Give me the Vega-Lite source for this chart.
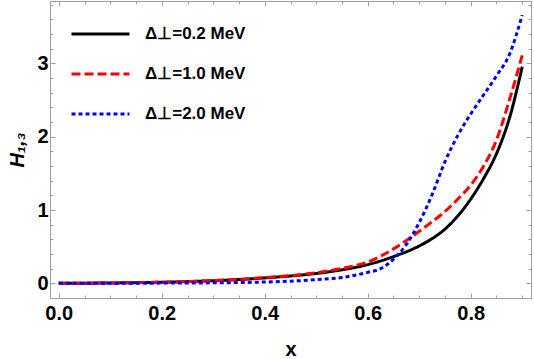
{
  "$schema": "https://vega.github.io/schema/vega-lite/v6.json",
  "width": 481,
  "height": 297,
  "autosize": {"type": "none"},
  "padding": {"left": 50, "top": 1, "right": 3, "bottom": 61},
  "config": {
    "font": "Liberation Sans",
    "view": {"stroke": "#a0a0a0", "strokeWidth": 1}
  },
  "data": {
    "values": [
      {"x": 0.0, "H": 0.0, "s": "Δ⊥=0.2 MeV"},
      {"x": 0.05, "H": 0.002, "s": "Δ⊥=0.2 MeV"},
      {"x": 0.1, "H": 0.005, "s": "Δ⊥=0.2 MeV"},
      {"x": 0.15, "H": 0.009, "s": "Δ⊥=0.2 MeV"},
      {"x": 0.2, "H": 0.015, "s": "Δ⊥=0.2 MeV"},
      {"x": 0.25, "H": 0.024, "s": "Δ⊥=0.2 MeV"},
      {"x": 0.3, "H": 0.036, "s": "Δ⊥=0.2 MeV"},
      {"x": 0.35, "H": 0.052, "s": "Δ⊥=0.2 MeV"},
      {"x": 0.4, "H": 0.074, "s": "Δ⊥=0.2 MeV"},
      {"x": 0.45, "H": 0.1, "s": "Δ⊥=0.2 MeV"},
      {"x": 0.5, "H": 0.135, "s": "Δ⊥=0.2 MeV"},
      {"x": 0.55, "H": 0.185, "s": "Δ⊥=0.2 MeV"},
      {"x": 0.6, "H": 0.255, "s": "Δ⊥=0.2 MeV"},
      {"x": 0.65, "H": 0.365, "s": "Δ⊥=0.2 MeV"},
      {"x": 0.7, "H": 0.51, "s": "Δ⊥=0.2 MeV"},
      {"x": 0.725, "H": 0.61, "s": "Δ⊥=0.2 MeV"},
      {"x": 0.75, "H": 0.74, "s": "Δ⊥=0.2 MeV"},
      {"x": 0.775, "H": 0.92, "s": "Δ⊥=0.2 MeV"},
      {"x": 0.8, "H": 1.15, "s": "Δ⊥=0.2 MeV"},
      {"x": 0.825, "H": 1.43, "s": "Δ⊥=0.2 MeV"},
      {"x": 0.85, "H": 1.77, "s": "Δ⊥=0.2 MeV"},
      {"x": 0.875, "H": 2.25, "s": "Δ⊥=0.2 MeV"},
      {"x": 0.9, "H": 2.955, "s": "Δ⊥=0.2 MeV"},

      {"x": 0.0, "H": 0.0, "s": "Δ⊥=1.0 MeV"},
      {"x": 0.05, "H": 0.002, "s": "Δ⊥=1.0 MeV"},
      {"x": 0.1, "H": 0.005, "s": "Δ⊥=1.0 MeV"},
      {"x": 0.15, "H": 0.009, "s": "Δ⊥=1.0 MeV"},
      {"x": 0.2, "H": 0.016, "s": "Δ⊥=1.0 MeV"},
      {"x": 0.25, "H": 0.025, "s": "Δ⊥=1.0 MeV"},
      {"x": 0.3, "H": 0.038, "s": "Δ⊥=1.0 MeV"},
      {"x": 0.35, "H": 0.055, "s": "Δ⊥=1.0 MeV"},
      {"x": 0.4, "H": 0.078, "s": "Δ⊥=1.0 MeV"},
      {"x": 0.45, "H": 0.105, "s": "Δ⊥=1.0 MeV"},
      {"x": 0.5, "H": 0.145, "s": "Δ⊥=1.0 MeV"},
      {"x": 0.55, "H": 0.205, "s": "Δ⊥=1.0 MeV"},
      {"x": 0.6, "H": 0.29, "s": "Δ⊥=1.0 MeV"},
      {"x": 0.65, "H": 0.47, "s": "Δ⊥=1.0 MeV"},
      {"x": 0.7, "H": 0.71, "s": "Δ⊥=1.0 MeV"},
      {"x": 0.725, "H": 0.84, "s": "Δ⊥=1.0 MeV"},
      {"x": 0.75, "H": 0.98, "s": "Δ⊥=1.0 MeV"},
      {"x": 0.775, "H": 1.15, "s": "Δ⊥=1.0 MeV"},
      {"x": 0.8, "H": 1.34, "s": "Δ⊥=1.0 MeV"},
      {"x": 0.825, "H": 1.6, "s": "Δ⊥=1.0 MeV"},
      {"x": 0.85, "H": 1.955, "s": "Δ⊥=1.0 MeV"},
      {"x": 0.875, "H": 2.5, "s": "Δ⊥=1.0 MeV"},
      {"x": 0.9, "H": 3.11, "s": "Δ⊥=1.0 MeV"},

      {"x": 0.0, "H": 0.0, "s": "Δ⊥=2.0 MeV"},
      {"x": 0.05, "H": 0.0005, "s": "Δ⊥=2.0 MeV"},
      {"x": 0.1, "H": 0.001, "s": "Δ⊥=2.0 MeV"},
      {"x": 0.15, "H": 0.002, "s": "Δ⊥=2.0 MeV"},
      {"x": 0.2, "H": 0.003, "s": "Δ⊥=2.0 MeV"},
      {"x": 0.25, "H": 0.005, "s": "Δ⊥=2.0 MeV"},
      {"x": 0.3, "H": 0.007, "s": "Δ⊥=2.0 MeV"},
      {"x": 0.35, "H": 0.011, "s": "Δ⊥=2.0 MeV"},
      {"x": 0.4, "H": 0.018, "s": "Δ⊥=2.0 MeV"},
      {"x": 0.45, "H": 0.03, "s": "Δ⊥=2.0 MeV"},
      {"x": 0.5, "H": 0.05, "s": "Δ⊥=2.0 MeV"},
      {"x": 0.55, "H": 0.08, "s": "Δ⊥=2.0 MeV"},
      {"x": 0.6, "H": 0.15, "s": "Δ⊥=2.0 MeV"},
      {"x": 0.625, "H": 0.2, "s": "Δ⊥=2.0 MeV"},
      {"x": 0.65, "H": 0.33, "s": "Δ⊥=2.0 MeV"},
      {"x": 0.675, "H": 0.53, "s": "Δ⊥=2.0 MeV"},
      {"x": 0.7, "H": 0.83, "s": "Δ⊥=2.0 MeV"},
      {"x": 0.725, "H": 1.21, "s": "Δ⊥=2.0 MeV"},
      {"x": 0.75, "H": 1.66, "s": "Δ⊥=2.0 MeV"},
      {"x": 0.775, "H": 2.02, "s": "Δ⊥=2.0 MeV"},
      {"x": 0.8, "H": 2.31, "s": "Δ⊥=2.0 MeV"},
      {"x": 0.825, "H": 2.57, "s": "Δ⊥=2.0 MeV"},
      {"x": 0.85, "H": 2.83, "s": "Δ⊥=2.0 MeV"},
      {"x": 0.875, "H": 3.12, "s": "Δ⊥=2.0 MeV"},
      {"x": 0.9, "H": 3.66, "s": "Δ⊥=2.0 MeV"}
    ]
  },
  "layer": [
    {
      "mark": {"type": "line", "strokeWidth": 3, "strokeCap": "butt", "interpolate": "monotone"},
      "encoding": {
        "x": {
          "field": "x",
          "type": "quantitative",
          "scale": {"domain": [-0.017, 0.917], "nice": false, "zero": false},
          "axis": {
            "orient": "bottom",
            "title": "x",
            "titleFontSize": 20,
            "titleFontWeight": "bold",
            "titlePadding": 14,
            "values": [0, 0.05, 0.1, 0.15, 0.2, 0.25, 0.3, 0.35, 0.4, 0.45, 0.5, 0.55, 0.6, 0.65, 0.7, 0.75, 0.8, 0.85, 0.9],
            "labelExpr": "round(datum.value*20) % 4 == 0 ? format(datum.value, '.1f') : ''",
            "labelFontSize": 20,
            "labelFontWeight": "bold",
            "labelColor": "#000000",
            "labelPadding": 10,
            "labelOverlap": false,
            "labelFlush": false,
            "domain": false,
            "grid": false,
            "tickColor": "#a0a0a0",
            "tickSize": {"condition": {"test": "round(datum.value*20) % 4 == 0", "value": -5}, "value": -3}
          }
        },
        "y": {
          "field": "H",
          "type": "quantitative",
          "scale": {"domain": [-0.2, 3.851], "nice": false, "zero": false},
          "axis": {
            "orient": "left",
            "title": "H₁,₃",
            "titleFontSize": 20,
            "titleFontWeight": "bold",
            "titleFontStyle": "italic",
            "titlePadding": 9,
            "values": [-0.2, 0, 0.2, 0.4, 0.6, 0.8, 1, 1.2, 1.4, 1.6, 1.8, 2, 2.2, 2.4, 2.6, 2.8, 3, 3.2, 3.4, 3.6, 3.8],
            "labelExpr": "round(datum.value*5) % 5 == 0 ? format(datum.value, 'd') : ''",
            "labelFontSize": 20,
            "labelFontWeight": "bold",
            "labelColor": "#000000",
            "labelPadding": 7,
            "labelOverlap": false,
            "labelFlush": false,
            "domain": false,
            "grid": false,
            "tickColor": "#a0a0a0",
            "tickSize": {"condition": {"test": "round(datum.value*5) % 5 == 0", "value": -5}, "value": -3}
          }
        },
        "color": {
          "field": "s",
          "type": "nominal",
          "scale": {"range": ["#000000", "#ff0000", "#0000ff"]},
          "legend": {
            "title": null,
            "orient": "none",
            "legendX": 20,
            "legendY": 13,
            "padding": 0,
            "symbolType": "stroke",
            "symbolSize": 3364,
            "symbolStrokeWidth": 3,
            "clipHeight": 40,
            "rowPadding": 0,
            "labelOffset": 14,
            "labelFontSize": 17,
            "labelFontWeight": "bold",
            "labelColor": "#000000",
            "labelLimit": 300
          }
        },
        "strokeDash": {
          "field": "s",
          "type": "nominal",
          "scale": {"range": [[1, 0], [9, 4], [4, 3]]},
          "legend": {
            "title": null,
            "orient": "none",
            "legendX": 20,
            "legendY": 13,
            "padding": 0,
            "symbolType": "stroke",
            "symbolSize": 3364,
            "symbolStrokeWidth": 3,
            "clipHeight": 40,
            "rowPadding": 0,
            "labelOffset": 14,
            "labelFontSize": 17,
            "labelFontWeight": "bold",
            "labelColor": "#000000",
            "labelLimit": 300
          }
        }
      }
    },
    {
      "mark": {"type": "line", "opacity": 0},
      "encoding": {
        "x": {
          "field": "x",
          "type": "quantitative",
          "scale": {"domain": [-0.017, 0.917], "nice": false, "zero": false},
          "axis": {
            "orient": "top",
            "title": null,
            "labels": false,
            "values": [0, 0.05, 0.1, 0.15, 0.2, 0.25, 0.3, 0.35, 0.4, 0.45, 0.5, 0.55, 0.6, 0.65, 0.7, 0.75, 0.8, 0.85, 0.9],
            "domain": false,
            "grid": false,
            "tickColor": "#a0a0a0",
            "tickSize": {"condition": {"test": "round(datum.value*20) % 4 == 0", "value": -5}, "value": -3}
          }
        },
        "y": {
          "field": "H",
          "type": "quantitative",
          "scale": {"domain": [-0.2, 3.851], "nice": false, "zero": false},
          "axis": {
            "orient": "right",
            "title": null,
            "labels": false,
            "values": [-0.2, 0, 0.2, 0.4, 0.6, 0.8, 1, 1.2, 1.4, 1.6, 1.8, 2, 2.2, 2.4, 2.6, 2.8, 3, 3.2, 3.4, 3.6, 3.8],
            "domain": false,
            "grid": false,
            "tickColor": "#a0a0a0",
            "tickSize": {"condition": {"test": "round(datum.value*5) % 5 == 0", "value": -5}, "value": -3}
          }
        },
        "detail": {"field": "s", "type": "nominal"}
      }
    }
  ],
  "resolve": {"scale": {"x": "independent", "y": "independent"}}
}
